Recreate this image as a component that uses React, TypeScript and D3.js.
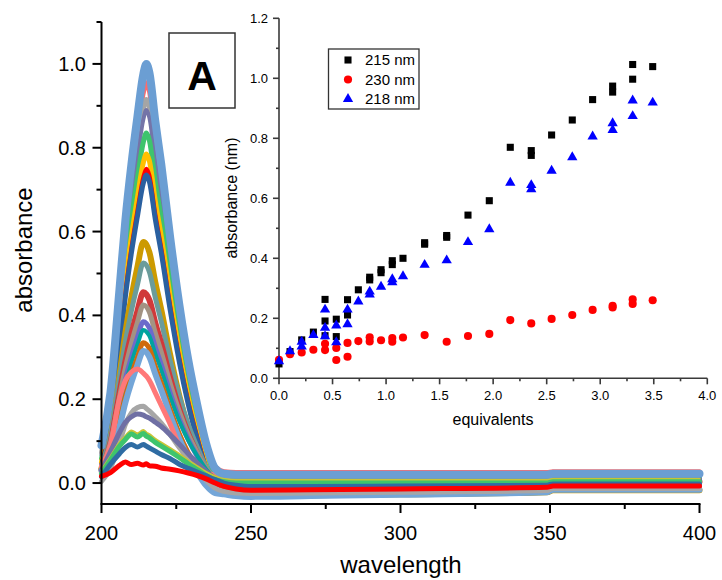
import React from "react";
import * as d3 from "d3";

// wavelength grid (nm) shared by every spectrum
const wavelengths = [200, 203, 206, 208, 210, 212, 214, 215, 216, 218, 220, 223, 226, 229, 232, 235, 238, 241, 245, 250, 270, 300, 349, 351, 400];

// absorbance, biggest peak first
const spectra = [
  [0.09, 0.216, 0.461, 0.628, 0.76, 0.873, 0.976, 1.0, 0.98, 0.863, 0.76, 0.584, 0.427, 0.294, 0.187, 0.094, 0.035, 0.022, 0.02, 0.02, 0.02, 0.02, 0.02, 0.022, 0.022],
  [0.09, 0.211, 0.444, 0.602, 0.727, 0.834, 0.932, 0.955, 0.936, 0.825, 0.727, 0.56, 0.411, 0.285, 0.183, 0.095, 0.039, 0.027, 0.025, 0.025, 0.025, 0.025, 0.025, 0.027, 0.027],
  [0.073, 0.191, 0.417, 0.571, 0.693, 0.797, 0.892, 0.915, 0.897, 0.788, 0.693, 0.53, 0.386, 0.263, 0.164, 0.078, 0.024, 0.012, 0.01, 0.01, 0.01, 0.01, 0.01, 0.012, 0.012],
  [0.067, 0.182, 0.403, 0.554, 0.673, 0.775, 0.868, 0.89, 0.872, 0.766, 0.673, 0.514, 0.372, 0.253, 0.155, 0.071, 0.018, 0.007, 0.005, 0.005, 0.005, 0.005, 0.005, 0.007, 0.007],
  [0.058, 0.167, 0.376, 0.518, 0.63, 0.726, 0.814, 0.835, 0.818, 0.718, 0.63, 0.48, 0.347, 0.234, 0.142, 0.063, 0.013, 0.002, 0, 0, 0, 0, 0, 0.003, 0.003],
  [0.05, 0.145, 0.342, 0.479, 0.588, 0.68, 0.765, 0.785, 0.769, 0.672, 0.588, 0.443, 0.314, 0.205, 0.117, 0.04, -0.008, -0.018, -0.023, -0.025, -0.024, -0.022, -0.017, -0.012, -0.012],
  [0.045, 0.138, 0.327, 0.457, 0.561, 0.65, 0.731, 0.75, 0.735, 0.642, 0.561, 0.423, 0.3, 0.196, 0.111, 0.038, -0.008, -0.018, -0.022, -0.024, -0.023, -0.021, -0.016, -0.011, -0.011],
  [0.04, 0.13, 0.317, 0.446, 0.549, 0.636, 0.716, 0.735, 0.72, 0.629, 0.549, 0.412, 0.29, 0.188, 0.104, 0.032, -0.014, -0.023, -0.028, -0.03, -0.029, -0.027, -0.022, -0.017, -0.017],
  [0.035, 0.11, 0.257, 0.359, 0.443, 0.515, 0.575, 0.569, 0.551, 0.479, 0.413, 0.305, 0.209, 0.131, 0.068, 0.014, -0.018, -0.024, -0.028, -0.03, -0.029, -0.027, -0.022, -0.017, -0.017],
  [0.041, 0.114, 0.249, 0.338, 0.411, 0.473, 0.525, 0.52, 0.504, 0.442, 0.385, 0.291, 0.208, 0.14, 0.086, 0.039, 0.011, 0.006, 0.005, 0.005, 0.005, 0.005, 0.005, 0.007, 0.007],
  [0.032, 0.096, 0.214, 0.291, 0.355, 0.41, 0.455, 0.45, 0.437, 0.382, 0.332, 0.25, 0.177, 0.118, 0.071, 0.03, 0.005, 0.001, 0, 0, 0, 0, 0, 0.003, 0.003],
  [0.037, 0.096, 0.204, 0.275, 0.333, 0.383, 0.425, 0.421, 0.408, 0.358, 0.312, 0.237, 0.171, 0.116, 0.073, 0.035, 0.013, 0.009, 0.008, 0.008, 0.008, 0.008, 0.008, 0.01, 0.01],
  [0.032, 0.085, 0.184, 0.248, 0.301, 0.347, 0.385, 0.381, 0.37, 0.324, 0.282, 0.214, 0.153, 0.104, 0.064, 0.03, 0.01, 0.006, 0.005, 0.005, 0.005, 0.005, 0.005, 0.007, 0.007],
  [0.035, 0.085, 0.177, 0.237, 0.287, 0.33, 0.365, 0.361, 0.351, 0.308, 0.269, 0.205, 0.148, 0.102, 0.065, 0.033, 0.014, 0.011, 0.01, 0.01, 0.01, 0.01, 0.01, 0.013, 0.013],
  [0.025, 0.065, 0.147, 0.207, 0.257, 0.3, 0.335, 0.331, 0.321, 0.278, 0.239, 0.175, 0.118, 0.072, 0.035, 0.003, -0.016, -0.019, -0.022, -0.024, -0.023, -0.021, -0.016, -0.011, -0.011],
  [0.03, 0.06, 0.133, 0.192, 0.24, 0.281, 0.315, 0.312, 0.301, 0.26, 0.222, 0.161, 0.106, 0.061, 0.025, -0.006, -0.024, -0.027, -0.031, -0.033, -0.031, -0.028, -0.022, -0.016, -0.016],
  [0.04, 0.09, 0.2, 0.245, 0.265, 0.272, 0.262, 0.255, 0.245, 0.215, 0.185, 0.14, 0.09, 0.06, 0.035, 0.022, 0.02, 0.02, 0.02, 0.02, 0.02, 0.02, 0.02, 0.022, 0.022],
  [0.004, 0.035, 0.095, 0.14, 0.167, 0.18, 0.183, 0.178, 0.172, 0.158, 0.143, 0.115, 0.085, 0.058, 0.032, 0.006, -0.012, -0.02, -0.024, -0.025, -0.024, -0.022, -0.018, -0.013, -0.013],
  [0.03, 0.075, 0.12, 0.145, 0.158, 0.165, 0.162, 0.158, 0.155, 0.145, 0.135, 0.115, 0.093, 0.07, 0.048, 0.028, 0.012, 0.006, 0.005, 0.005, 0.005, 0.005, 0.005, 0.007, 0.007],
  [0.03, 0.063, 0.096, 0.112, 0.125, 0.118, 0.126, 0.12, 0.116, 0.105, 0.096, 0.083, 0.069, 0.054, 0.04, 0.026, 0.016, 0.011, 0.008, 0.008, 0.008, 0.008, 0.008, 0.01, 0.01],
  [0.022, 0.055, 0.088, 0.104, 0.117, 0.11, 0.118, 0.112, 0.108, 0.097, 0.088, 0.075, 0.061, 0.046, 0.032, 0.018, 0.008, 0.003, 0, 0, 0, 0, 0, 0.003, 0.003],
  [0.015, 0.045, 0.07, 0.085, 0.092, 0.086, 0.092, 0.088, 0.084, 0.076, 0.068, 0.058, 0.045, 0.035, 0.026, 0.017, 0.008, 0, -0.005, -0.008, -0.008, -0.007, -0.005, -0.002, -0.002],
  [0.016, 0.025, 0.042, 0.05, 0.044, 0.047, 0.043, 0.046, 0.041, 0.04, 0.036, 0.033, 0.029, 0.024, 0.018, 0.01, 0, -0.008, -0.014, -0.017, -0.016, -0.014, -0.01, -0.007, -0.007],
];

const lineColors = [
  "#6b9ed3", "#ff6b6b", "#a5a5a5", "#7474a8", "#3ec46d", "#ffc000", "#ff0000", "#2a60a0",
  "#cc9a00", "#6b9c9b", "#d03a3a", "#a39383", "#6c6acb", "#00a39e", "#cf6a0c", "#74a6d8",
  "#ff7878", "#a6a6a6", "#6f6fa4", "#c9c436", "#3ec46d", "#2f6ca3", "#ff0000",
];
const lineWidths = [8, 5, 5, 4, 5, 5, 4, 5, 6, 5, 6, 5, 5, 4, 5, 6, 5, 5, 5, 2.5, 5, 5, 5];
// paint order: the thick outer blue spectrum goes on top
const drawOrder = [1, 2, 3, 4, 5, 6, 7, 8, 9, 10, 11, 12, 13, 14, 15, 16, 17, 18, 19, 20, 21, 22, 0];

// inset: absorbance vs equivalents
const eq215 = [0, 0.103, 0.212, 0.321, 0.43, 0.43, 0.43, 0.535, 0.535, 0.64, 0.64, 0.741, 0.847, 0.847, 0.953, 0.953, 1.058, 1.058, 1.158, 1.36, 1.36, 1.566, 1.566, 1.765, 1.964, 2.16, 2.356, 2.356, 2.546, 2.739, 2.929, 3.116, 3.116, 3.303, 3.303, 3.49];
const abs215 = [0.048, 0.089, 0.128, 0.154, 0.263, 0.191, 0.142, 0.197, 0.139, 0.262, 0.211, 0.295, 0.337, 0.328, 0.362, 0.352, 0.392, 0.379, 0.4, 0.452, 0.447, 0.476, 0.47, 0.544, 0.592, 0.77, 0.759, 0.743, 0.811, 0.861, 0.929, 0.974, 0.954, 1.046, 0.997, 1.039];
const eq230 = [0, 0.103, 0.212, 0.321, 0.43, 0.43, 0.535, 0.535, 0.64, 0.64, 0.741, 0.847, 0.847, 0.953, 1.058, 1.058, 1.158, 1.36, 1.566, 1.765, 1.964, 2.16, 2.356, 2.546, 2.739, 2.929, 3.116, 3.116, 3.303, 3.303, 3.49];
const abs230 = [0.062, 0.08, 0.086, 0.095, 0.115, 0.094, 0.101, 0.061, 0.118, 0.072, 0.124, 0.137, 0.123, 0.127, 0.134, 0.122, 0.136, 0.144, 0.122, 0.141, 0.148, 0.194, 0.183, 0.198, 0.211, 0.228, 0.242, 0.236, 0.263, 0.248, 0.26];
const eq218 = [0, 0.103, 0.212, 0.212, 0.321, 0.43, 0.43, 0.43, 0.535, 0.535, 0.64, 0.64, 0.741, 0.847, 0.847, 0.953, 1.058, 1.058, 1.158, 1.36, 1.566, 1.765, 1.964, 2.16, 2.356, 2.356, 2.546, 2.739, 2.929, 3.116, 3.116, 3.303, 3.303, 3.49];
const abs218 = [0.057, 0.09, 0.122, 0.106, 0.144, 0.229, 0.168, 0.14, 0.176, 0.12, 0.229, 0.18, 0.256, 0.289, 0.279, 0.305, 0.33, 0.32, 0.34, 0.378, 0.393, 0.454, 0.497, 0.652, 0.644, 0.63, 0.692, 0.737, 0.806, 0.85, 0.828, 0.926, 0.874, 0.919];

const legendLabels = ["215 nm", "230 nm", "218 nm"];

// tick values
const xTicks = [200, 225, 250, 275, 300, 325, 350, 375, 400];
const yTicks = [0, 0.1, 0.2, 0.3, 0.4, 0.5, 0.6, 0.7, 0.8, 0.9, 1.0, 1.1];
const xiTicks = [0, 0.25, 0.5, 0.75, 1, 1.25, 1.5, 1.75, 2, 2.25, 2.5, 2.75, 3, 3.25, 3.5, 3.75, 4];
const yiTicks = [0, 0.1, 0.2, 0.3, 0.4, 0.5, 0.6, 0.7, 0.8, 0.9, 1.0, 1.1, 1.2];

const font = "'Liberation Sans', Arial, sans-serif";

const isMajorTenth = (t: number) => Math.round(t * 10) % 2 === 0;
const isMajorHalf = (t: number) => Math.abs(t * 2 - Math.round(t * 2)) < 1e-6;

export default function App() {
  const x = d3.scaleLinear().domain([200, 400]).range([101.5, 699.5]);
  const y = d3.scaleLinear().domain([-0.05, 1.1]).range([504, 22]);

  const xi = d3.scaleLinear().domain([0, 4]).range([279, 707.3]);
  const yi = d3.scaleLinear().domain([0, 1.2]).range([378.3, 18.3]);

  const line = d3
    .line<number>()
    .x((d, i) => x(wavelengths[i]))
    .y((d) => y(d))
    .curve(d3.curveMonotoneX);

  const square = d3.symbol(d3.symbolSquare, 50)();
  const circle = d3.symbol(d3.symbolCircle, 52)();
  const triangle = d3.symbol(d3.symbolTriangle, 46)();

  const series = [
    { xs: eq215, ys: abs215, path: square, fill: "#000000" },
    { xs: eq230, ys: abs230, path: circle, fill: "#ff0000" },
    { xs: eq218, ys: abs218, path: triangle, fill: "#0000ff" },
  ];

  const inset = "#3a3a3a";

  return (
    <svg width={722} height={580} style={{ position: "absolute", left: 0, top: 0, background: "#fff" }} fontFamily={font}>
      {/* spectra */}
      <g fill="none" strokeLinejoin="round" strokeLinecap="round">
        {drawOrder.map((i) => (
          <path key={i} d={line(spectra[i]) || ""} stroke={lineColors[i]} strokeWidth={lineWidths[i]} />
        ))}
      </g>

      {/* main axes */}
      <g stroke="#000" strokeWidth={2}>
        <line x1={x(200)} x2={x(200)} y1={y(1.1)} y2={y(-0.05)} />
        <line x1={x(200) - 1} x2={x(400) + 1} y1={y(-0.05)} y2={y(-0.05)} />
        {xTicks.map((t) => (
          <line key={"xt" + t} x1={x(t)} x2={x(t)} y1={y(-0.05)} y2={y(-0.05) + (t % 50 === 0 ? 9 : 5)} />
        ))}
        {yTicks.map((t) => (
          <line key={"yt" + t} x1={x(200)} x2={x(200) - (isMajorTenth(t) ? 9 : 5)} y1={y(t)} y2={y(t)} />
        ))}
      </g>
      <g fontSize={20} fill="#000">
        {xTicks.filter((t) => t % 50 === 0).map((t) => (
          <text key={"xl" + t} x={x(t)} y={540} textAnchor="middle">{t}</text>
        ))}
        {yTicks.filter(isMajorTenth).map((t) => (
          <text key={"yl" + t} x={86} y={y(t) + 7} textAnchor="end">{t.toFixed(1)}</text>
        ))}
      </g>
      <text x={401} y={573} fontSize={24} textAnchor="middle">wavelength</text>
      <text transform="translate(32,250) rotate(-90)" fontSize={24} textAnchor="middle">absorbance</text>

      {/* panel letter */}
      <rect x={169} y={33} width={66} height={75} fill="#fff" stroke="#333" strokeWidth={1.5} />
      <text x={202} y={90} fontSize={41} fontWeight="bold" textAnchor="middle">A</text>

      {/* inset axes */}
      <g stroke={inset} strokeWidth={1.6}>
        <line x1={xi(0)} x2={xi(0)} y1={yi(1.2)} y2={yi(0)} />
        <line x1={xi(0)} x2={xi(4)} y1={yi(0)} y2={yi(0)} />
        {xiTicks.map((t) => (
          <line key={"xit" + t} x1={xi(t)} x2={xi(t)} y1={yi(0)} y2={yi(0) + (isMajorHalf(t) ? 6 : 3)} />
        ))}
        {yiTicks.map((t) => (
          <line key={"yit" + t} x1={xi(0)} x2={xi(0) - (isMajorTenth(t) ? 6 : 3)} y1={yi(t)} y2={yi(t)} />
        ))}
      </g>
      <g fontSize={13} fill="#000">
        {xiTicks.filter(isMajorHalf).map((t) => (
          <text key={"xil" + t} x={xi(t)} y={400} textAnchor="middle">{t.toFixed(1)}</text>
        ))}
        {yiTicks.filter(isMajorTenth).map((t) => (
          <text key={"yil" + t} x={268} y={yi(t) + 4.6} textAnchor="end">{t.toFixed(1)}</text>
        ))}
      </g>
      <text x={493} y={425} fontSize={16} textAnchor="middle">equivalents</text>
      <text transform="translate(237,198) rotate(-90)" fontSize={16} textAnchor="middle">absorbance (nm)</text>

      {/* inset points */}
      {series.map((s, si) => (
        <g key={"s" + si} fill={s.fill}>
          {s.xs.map((v, i) => (
            <path key={i} d={s.path || ""} transform={`translate(${xi(v)},${yi(s.ys[i])})`} />
          ))}
        </g>
      ))}

      {/* inset legend */}
      <rect x={328.5} y={49} width={90.5} height={60} fill="none" stroke="#333" strokeWidth={1.3} />
      {series.map((s, i) => (
        <g key={"lg" + i}>
          <path d={s.path || ""} fill={s.fill} transform={`translate(348,${60 + i * 19.5})`} />
          <text x={365} y={60 + i * 19.5 + 5.4} fontSize={15}>{legendLabels[i]}</text>
        </g>
      ))}
    </svg>
  );
}
